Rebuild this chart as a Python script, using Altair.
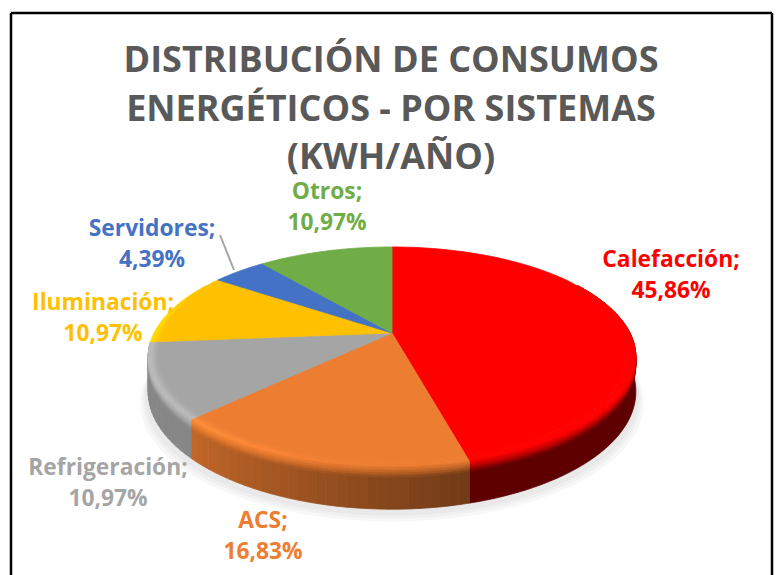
import math
import altair as alt

# ---- data ----
categories = ["Calefacción", "ACS", "Refrigeración", "Iluminación", "Servidores", "Otros"]
shares = [45.86, 16.83, 10.97, 10.97, 4.39, 10.97]
colors = ["#FF0000", "#ED7D31", "#A5A5A5", "#FFC000", "#4472C4", "#70AD47"]
title_lines = ["DISTRIBUCIÓN DE CONSUMOS", "ENERGÉTICOS - POR SISTEMAS", "(KWH/AÑO)"]

# ---- label placement (chart pixels) ----
label_x = [663, 255, 100, 95, 144, 319]
label_y = [252, 513, 460, 295, 221, 184]
FONT = "Open Sans"
LABEL_SIZE = 22.8
LINE = 31

# ---- pie projection: tilted disc seen in perspective ----
CX, CY, AX, BY, K, DEPTH = 384.0, 325.0, 238.0, 104.8, 0.218, 33.0


def rgb(h):
    return [int(h[i:i + 2], 16) for i in (1, 3, 5)]


def to_hex(c):
    return "#%02x%02x%02x" % tuple(max(0, min(255, round(v))) for v in c)


def mix(a, b, t):
    return [p + (q - p) * t for p, q in zip(a, b)]


def pt(deg, r=1.0, d=0.0):
    s, c = math.sin(math.radians(deg)), math.cos(math.radians(deg))
    w = 1 + K * r * c
    return [CX + AX * r * s / w, CY - BY * r * c / w + d * DEPTH / w]


def feature(ring, color):
    ring = ring + [ring[0]]
    return {"type": "Feature", "properties": {"c": color},
            "geometry": {"type": "Polygon", "coordinates": [ring]}}


def arange(a, b, step=2.0):
    n = max(1, int(math.ceil((b - a) / step)))
    return [a + (b - a) * i / n for i in range(n + 1)]


total = sum(shares)
edges = [0.0]
for v in shares:
    edges.append(edges[-1] + v / total * 360)

shadow, solid, lower, upper = [], [], [[] for _ in range(4)], [[] for _ in range(4)]

# soft shadow under the disc
for grow, off, col in [(1.03, 12, "#f7f7f7"), (1.02, 9, "#f0f0f0"), (1.012, 6, "#e9e9e9")]:
    ring = []
    for a in arange(0, 360, 4):
        p = pt(a, 1.0, 1.0)
        ring.append([CX + (p[0] - CX) * grow, p[1] + off])
    shadow.append(feature(ring[:-1], col))


def wall_color(i, a):
    base = rgb(colors[i])
    if i == 0:
        m = 0.37
    else:
        m = 0.47 + (0.82 - 0.47) * min(1, max(0, (a - 165) / 60))
    return [v * m for v in base]


def band_color(i, a, s):
    base = rgb(colors[i])
    h = 0.0 if i == 0 else 0.14 * min(1, max(0, (a - 185) / 40))
    light = [min(255, v * (1 + h)) for v in base]
    wall = wall_color(i, a)
    if s < 0.4:
        return mix(base, light, s / 0.4)
    return mix(light, wall, ((s - 0.4) / 0.6) ** 1.5)


for i in range(len(shares)):
    a0, a1 = max(edges[i], 60), min(edges[i + 1], 300)
    if a1 <= a0:
        continue
    angles = arange(a0, a1)
    if i == 0:  # one flat wall for the dark red slice
        ring = [pt(a, 1, 0) for a in angles] + [pt(a, 1, 1) for a in reversed(angles)]
        solid.append(feature(ring, to_hex(wall_color(0, a0))))
    for u, v in zip(angles[:-1], angles[1:]):
        mid = (u + v) / 2
        vis = min(1, max(0, (0.55 - math.cos(math.radians(mid))) / 0.5))
        rs = [0.962, 0.972, 0.982, 0.992, 1.0]
        for k in range(4):
            ring = [pt(u, rs[k]), pt(v, rs[k]), pt(v, rs[k + 1]), pt(u, rs[k + 1])]
            s = (k + 0.5) / 4 * 0.55 * vis
            upper[k].append(feature(ring, to_hex(band_color(i, mid, s))))
        if i > 2:  # these walls lie behind the disc
            continue
        if i > 0:
            ring = [pt(u, 1, 0), pt(v, 1, 0), pt(v, 1, 1), pt(u, 1, 1)]
            solid.append(feature(ring, to_hex(wall_color(i, mid))))
        ds = [0.0, 0.06, 0.12, 0.18, 0.24]
        for k in range(4):
            ring = [pt(u, 1, ds[k]), pt(v, 1, ds[k]), pt(v, 1, ds[k + 1]), pt(u, 1, ds[k + 1])]
            s = 0.55 + (k + 0.5) / 4 * 0.45
            lower[k].append(feature(ring, to_hex(band_color(i, mid, s))))

# flat top surface (inside the bevel where it shows)
top = []
for i in range(len(shares)):
    ring = [[CX, CY]]
    for a in arange(edges[i], edges[i + 1]):
        vis = min(1, max(0, (0.55 - math.cos(math.radians(a))) / 0.5))
        ring.append(pt(a, 1.0 - 0.038 * vis))
    top.append(feature(ring, colors[i]))

features = shadow + solid
for k in (3, 2, 1, 0):
    features += lower[k]
for k in (3, 2, 1, 0):
    features += upper[k]
features += top

pie = alt.Chart(alt.Data(values=features)).mark_geoshape(strokeWidth=0.8).encode(
    fill=alt.Fill("properties.c:N", scale=None, legend=None),
    stroke=alt.Stroke("properties.c:N", scale=None, legend=None),
).project(type="identity", scale=1, translate=[0, 0])

texts = []
for i, name in enumerate(categories):
    pct = f"{shares[i]:.2f}".replace(".", ",") + "%"
    texts.append({"t": [name + ";", pct], "x": label_x[i], "y": label_y[i], "c": colors[i]})
labels = [
    alt.Chart(alt.Data(values=[d])).mark_text(
        font=FONT, fontWeight="bold", fontSize=LABEL_SIZE, lineHeight=LINE,
        align="center", baseline="middle", color=d["c"],
    ).encode(text="t:N", x=alt.value(d["x"]), y=alt.value(d["y"]))
    for d in texts
]

dummy = alt.Data(values=[{"a": 1}])
leader = alt.Chart(dummy).mark_rule(color="#A5A5A5", strokeWidth=2).encode(
    x=alt.value(212), x2=alt.value(226), y=alt.value(227), y2=alt.value(262))
border = [
    alt.Chart(dummy).mark_rule(color="#000000", strokeWidth=2.5).encode(
        x=alt.value(x0), x2=alt.value(x1), y=alt.value(y0), y2=alt.value(y1))
    for x0, x1, y0, y1 in [(3, 764, 5, 5), (3, 3, 5, 570), (764, 764, 5, 570)]
]

chart = alt.layer(pie, leader, *labels, *border).properties(
    width=766, height=567,
    autosize=alt.AutoSizeParams(type="none"),
    padding=0,
    background="#ffffff",
    title=alt.TitleParams(
        text=title_lines, font=FONT, fontSize=36, fontWeight="bold", color="#595959",
        lineHeight=48.5, anchor="middle", baseline="top", orient="top", offset=0, dy=169, dx=0,
    ),
).configure_view(stroke=None)

chart.save("out.html", embed_options={"renderer": "svg", "actions": False})
